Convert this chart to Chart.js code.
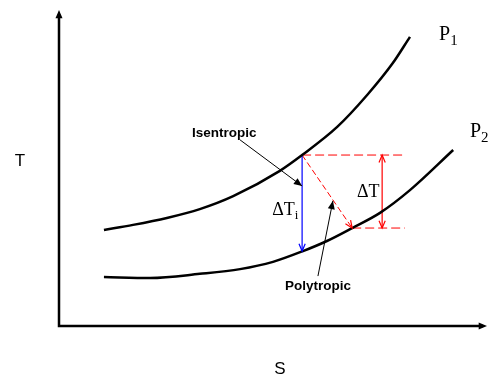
<!DOCTYPE html>
<html lang="en">
<head>
  <meta charset="UTF-8">
  <title>T-S diagram</title>
  <script src="https://cdn.jsdelivr.net/npm/chart.js"></script>
  <style>
    body { margin: 0; background: #fff; }
  </style>
</head>
<body>
  <canvas id="chart" width="489" height="379"></canvas>
  <script>

// entropy (S) and temperature (T) in arbitrary units
const sP1 = [1.05, 1.73, 2.52, 3.29, 4.07, 5.16, 5.68, 6.50, 7.20, 7.80, 8.20];
const tP1 = [3.04, 3.20, 3.42, 3.70, 4.11, 4.91, 5.41, 6.30, 7.31, 8.32, 9.15];
const sP2 = [1.05, 2.13, 3.29, 4.23, 5.00, 5.70, 6.26, 6.85, 7.50, 8.20, 9.21];
const tP2 = [1.55, 1.52, 1.65, 1.80, 2.03, 2.37, 2.69, 3.10, 3.58, 4.30, 5.57];

// process states
const start = { x: 5.68, y: 5.41 };     // on P1
const isenEnd = { x: 5.68, y: 2.37 };   // on P2, isentropic
const polyEnd = { x: 6.85, y: 3.10 };   // on P2, polytropic
const dashEndS = 8.08;
const deltaS = 7.55;

const toPts = (xs, ys) => xs.map((x, i) => ({ x, y: ys[i] }));

function arrowHead(ctx, x1, y1, x2, y2, size, filled) {
  const a = Math.atan2(y2 - y1, x2 - x1);
  ctx.beginPath();
  ctx.moveTo(x2 - size * Math.cos(a - 0.4), y2 - size * Math.sin(a - 0.4));
  ctx.lineTo(x2, y2);
  ctx.lineTo(x2 - size * Math.cos(a + 0.4), y2 - size * Math.sin(a + 0.4));
  if (filled) {
    ctx.closePath();
    ctx.fill();
  } else {
    ctx.stroke();
  }
}

const extras = {
  id: 'extras',
  afterDraw(chart) {
    const ctx = chart.ctx;
    const xs = chart.scales.x, ys = chart.scales.y;
    const px = v => xs.getPixelForValue(v);
    const py = v => ys.getPixelForValue(v);
    const area = chart.chartArea;
    ctx.save();

    // axes
    ctx.strokeStyle = '#000';
    ctx.fillStyle = '#000';
    ctx.lineWidth = 2.5;
    ctx.beginPath();
    ctx.moveTo(area.left, area.top + 4);
    ctx.lineTo(area.left, area.bottom);
    ctx.lineTo(area.right - 4, area.bottom);
    ctx.stroke();
    arrowHead(ctx, area.left, area.bottom, area.left, area.top, 9, true);
    arrowHead(ctx, area.left, area.bottom, area.right, area.bottom, 9, true);

    // arrowheads for process lines
    ctx.lineWidth = 1.2;
    ctx.strokeStyle = '#0000ff';
    arrowHead(ctx, px(start.x), py(start.y), px(isenEnd.x), py(isenEnd.y), 8, false);
    ctx.strokeStyle = '#ff0000';
    arrowHead(ctx, px(start.x), py(start.y), px(polyEnd.x), py(polyEnd.y), 8, false);
    arrowHead(ctx, px(deltaS), py(polyEnd.y), px(deltaS), py(start.y), 8, false);
    arrowHead(ctx, px(deltaS), py(start.y), px(deltaS), py(polyEnd.y), 8, false);

    // pointer arrows
    ctx.strokeStyle = '#000';
    ctx.lineWidth = 1;
    const pointers = [[4.23, 5.89, 5.68, 4.43], [6.05, 1.58, 6.40, 3.96]];
    pointers.forEach(p => {
      ctx.beginPath();
      ctx.moveTo(px(p[0]), py(p[1]));
      ctx.lineTo(px(p[2]), py(p[3]));
      ctx.stroke();
      arrowHead(ctx, px(p[0]), py(p[1]), px(p[2]), py(p[3]), 9, true);
    });

    // texts
    ctx.textBaseline = 'middle';
    ctx.textAlign = 'center';
    ctx.font = 'bold 13.5px "Liberation Sans", Arial, sans-serif';
    ctx.fillText('Isentropic', px(3.86), py(6.11));
    ctx.fillText('Polytropic', px(6.05), py(1.27));

    ctx.font = '17px "Liberation Sans", Arial, sans-serif';
    ctx.fillText('T', 20, py(5.20));
    ctx.fillText('S', px(5.16), 369);

    function sub(main, s, x, y, big, small) {
      ctx.textAlign = 'left';
      ctx.font = big + 'px "Liberation Serif", "Times New Roman", serif';
      const w = ctx.measureText(main).width;
      ctx.fillText(main, x, y);
      if (s) {
        ctx.font = small + 'px "Liberation Serif", "Times New Roman", serif';
        ctx.fillText(s, x + w, y + big * 0.3);
      }
    }
    sub('P', '1', px(8.88), py(9.21), 20, 15);
    sub('P', '2', px(9.60), py(6.14), 20, 15);
    sub('\u0394T', '', px(6.96), py(4.24), 18, 13);
    sub('\u0394T', 'i', px(4.98), py(3.67), 18, 13);

    ctx.restore();
  }
};

const ctx = document.getElementById('chart');

new Chart(ctx, {
  type: 'scatter',
  data: {
    datasets: [
      { data: toPts(sP1, tP1), showLine: true, borderColor: '#000', borderWidth: 2.5, cubicInterpolationMode: 'monotone', pointRadius: 0 },
      { data: toPts(sP2, tP2), showLine: true, borderColor: '#000', borderWidth: 2.5, cubicInterpolationMode: 'monotone', pointRadius: 0 },
      { data: [start, isenEnd], showLine: true, borderColor: '#0000ff', borderWidth: 1.2, pointRadius: 0 },
      { data: [start, polyEnd], showLine: true, borderColor: '#ff0000', borderWidth: 1, borderDash: [6, 3], pointRadius: 0 },
      { data: [start, { x: dashEndS, y: start.y }], showLine: true, borderColor: '#ff0000', borderWidth: 1, borderDash: [9, 4], pointRadius: 0 },
      { data: [polyEnd, { x: dashEndS, y: polyEnd.y }], showLine: true, borderColor: '#ff0000', borderWidth: 1, borderDash: [9, 4], pointRadius: 0 },
      { data: [{ x: deltaS, y: start.y }, { x: deltaS, y: polyEnd.y }], showLine: true, borderColor: '#ff0000', borderWidth: 1.2, pointRadius: 0 }
    ]
  },
  options: {
    responsive: false,
    animation: false,
    layout: { padding: { left: 59, top: 10, right: 2, bottom: 53 } },
    plugins: { legend: { display: false }, tooltip: { enabled: false } },
    scales: {
      x: { type: 'linear', min: 0, max: 10, display: false },
      y: { type: 'linear', min: 0, max: 10, display: false }
    }
  },
  plugins: [extras]
});

  </script>
</body>
</html>
